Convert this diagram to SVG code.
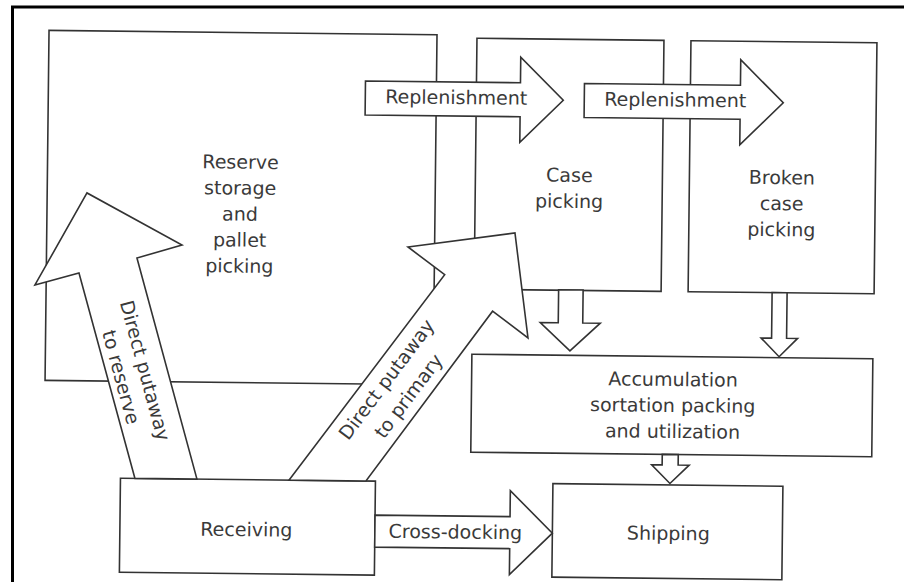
<svg xmlns="http://www.w3.org/2000/svg" width="904" height="582" viewBox="0 0 904 582">
<style>
.box{fill:#fff;stroke:#333;stroke-width:1.6}
.arr{fill:#fff;stroke:#333;stroke-width:1.6;stroke-linejoin:miter}
.t{font-family:"DejaVu Sans","Liberation Sans",sans-serif;font-size:19px;fill:#3a3a3a;text-anchor:middle}
</style>
<rect x="0" y="0" width="904" height="582" fill="#fff"/>
<path d="M12.5,582 V7 H904" fill="none" stroke="#000" stroke-width="3"/>
<g transform="rotate(0.65 452 300)">
<g id="nodes">
<g id="reserve">
<rect class="box" x="46" y="35" width="388" height="350"/>
<text class="t" x="239" y="171">Reserve</text>
<text class="t" x="239" y="197">storage</text>
<text class="t" x="239" y="223">and</text>
<text class="t" x="239" y="249">pallet</text>
<text class="t" x="239" y="275">picking</text>
</g>
<g id="case">
<rect class="box" x="474" y="38" width="187" height="251"/>
<text class="t" x="568" y="180.5">Case</text>
<text class="t" x="568" y="206.5">picking</text>
</g>
<g id="broken">
<rect class="box" x="688" y="38" width="186" height="251"/>
<text class="t" x="780.5" y="180.5">Broken</text>
<text class="t" x="780.5" y="206.5">case</text>
<text class="t" x="780.5" y="232.5">picking</text>
</g>
<g id="accumulation">
<rect class="box" x="472.5" y="354" width="401" height="98"/>
<text class="t" x="674" y="383.5">Accumulation</text>
<text class="t" x="674" y="409.5">sortation packing</text>
<text class="t" x="674" y="435.5">and utilization</text>
</g>
<g id="shipping">
<rect class="box" x="555" y="482.5" width="230" height="93.5"/>
<text class="t" x="671" y="537.5">Shipping</text>
</g>
<g id="receiving">
<rect class="box" x="122.5" y="482" width="255" height="94"/>
<text class="t" x="249" y="538.5">Receiving</text>
</g>
</g>
<g id="connectors">
<polygon class="arr" points="363,82 518,82 518,56.5 561,99 518,141.5 518,116 363,116"/>
<text class="t" x="454" y="104">Replenishment</text>
<polygon class="arr" points="582,82 738,82 738,56.5 781,99 738,141.5 738,116 582,116"/>
<text class="t" x="673" y="104">Replenishment</text>
<polygon class="arr" points="377.5,516 512.5,516 512.5,490 555,532 512.5,574 512.5,548 377.5,548"/>
<text class="t" x="458" y="538.5">Cross-docking</text>
<polygon class="arr" points="558.5,288.5 583,288.5 583,321.5 600.5,321.5 570.5,349.5 540.5,321.5 558.5,321.5"/>
<polygon class="arr" points="772,289 787,289 787,334.5 798,334.5 779.7,353 761.5,334.5 772,334.5"/>
<polygon class="arr" points="664,452 680,452 680,462.5 691,462.5 672,481 653.5,462.5 664,462.5"/>
<polygon class="arr" points="137,482 78.7,277.2 34.8,289.7 85.8,197.1 181.4,248 136.5,261.6 199,482"/>
<g transform="translate(133.3 377.6) rotate(74.15)">
<text class="t" x="0" y="-6.5">Direct putaway</text>
<text class="t" x="0" y="18.5">to reserve</text>
</g>
<polygon class="arr" points="291,482 444.4,274.8 407.4,247.5 514.2,232.3 528.4,337.1 492.7,310.7 368,482"/>
<g transform="translate(399.6 389.1) rotate(-53.7)">
<text class="t" x="0" y="-8.5">Direct putaway</text>
<text class="t" x="0" y="19">to primary</text>
</g>
</g>
</g>
</svg>
